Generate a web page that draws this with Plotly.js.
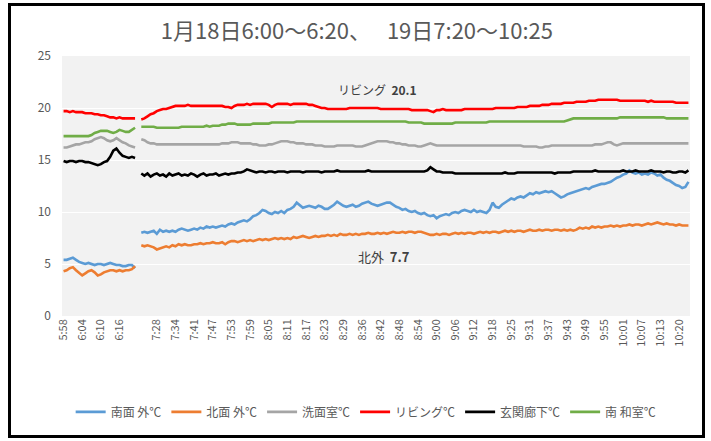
<!DOCTYPE html>
<html><head><meta charset="utf-8">
<script src="https://cdn.plot.ly/plotly-3.0.1.min.js"></script>
<style>
html,body{margin:0;padding:0;background:#fff;}
#chart{position:absolute;left:0;top:0;width:711px;height:441px;}
#frame{position:absolute;left:8px;top:3px;width:691px;height:429px;border:3px solid #000;pointer-events:none;}
</style>
</head><body>
<div id="chart"></div><div id="frame"></div>
<script>
// x tick labels (every 6th row; one blank row between the two days)
const tickLabels = ["5:58","6:04","6:10","6:16","","7:28","7:34","7:41","7:47","7:53","7:59","8:05","8:11","8:17","8:23","8:29","8:36","8:42","8:48","8:54","9:00","9:06","9:12","9:18","9:25","9:31","9:37","9:43","9:49","9:55","10:01","10:07","10:13","10:20"];
const seriesNames = ["南面 外℃","北面 外℃","洗面室℃","リビング℃","玄関廊下℃","南 和室℃"];
const seriesColors = ["#5b9bd5","#ed7d31","#a5a5a5","#ff0000","#000000","#70ad47"];

// Day 1 (18th, 5:58 - 6:21)
const minamiSoto_d1 = [5.4,5.4,5.5,5.6,5.4,5.2,5.1,5.0,5.1,5.0,4.9,5.0,5.0,4.9,5.0,5.1,5.0,4.9,4.9,4.8,4.8,4.9,4.9,4.6];
const kitaSoto_d1   = [4.3,4.4,4.6,4.7,4.4,4.1,3.9,4.1,4.3,4.4,4.2,3.9,4.0,4.2,4.3,4.4,4.4,4.3,4.4,4.3,4.4,4.4,4.5,4.8];
const senmen_d1     = [16.2,16.2,16.3,16.4,16.5,16.5,16.6,16.7,16.7,16.8,17.0,17.1,17.2,17.1,16.9,16.8,16.9,17.1,16.9,16.7,16.6,16.4,16.3,16.2];
const living_d1     = [19.7,19.7,19.6,19.7,19.6,19.6,19.6,19.5,19.5,19.5,19.4,19.4,19.3,19.3,19.2,19.1,19.1,19.0,19.1,19.0,19.0,19.0,19.0,19.0];
const genkan_d1     = [14.9,14.8,14.9,14.9,14.8,14.9,14.9,14.8,14.8,14.7,14.6,14.5,14.6,14.8,14.9,15.3,15.9,16.1,15.7,15.4,15.3,15.2,15.3,15.2];
const washitsu_d1   = [17.3,17.3,17.3,17.3,17.3,17.3,17.3,17.3,17.3,17.4,17.6,17.7,17.8,17.8,17.8,17.7,17.6,17.7,17.9,17.8,17.7,17.7,17.9,18.1];

// Day 2 (19th, ~7:23 - 10:25)
const minamiSoto_d2 = [
8.0,8.1,8.0,8.1,8.2,7.9,8.3,8.1,8.2,8.1,
8.2,8.1,8.3,8.4,8.3,8.2,8.3,8.4,8.3,8.5,
8.4,8.6,8.5,8.6,8.5,8.6,8.7,8.6,8.8,8.9,
8.8,9.0,9.1,9.2,9.1,9.3,9.6,9.7,9.9,10.2,
10.1,9.9,9.8,10.0,9.9,10.1,9.9,10.2,10.3,10.5,
10.9,10.6,10.4,10.5,10.6,10.5,10.4,10.6,10.5,10.3,
10.3,10.5,10.7,11.0,10.8,10.6,10.5,10.6,10.7,10.5,
10.6,10.8,10.9,11.0,10.8,10.7,10.6,10.7,10.8,10.9,
10.9,10.7,10.5,10.4,10.2,10.3,10.1,10.0,10.1,9.9,
9.8,9.9,9.7,9.6,9.7,9.4,9.6,9.7,9.8,9.7,
9.9,10.0,9.9,10.1,10.2,10.1,10.0,10.2,10.0,10.1,
10.0,9.9,10.2,10.9,10.5,10.4,10.7,10.9,11.1,11.3,
11.2,11.4,11.5,11.4,11.6,11.8,11.7,11.9,11.8,11.9,
12.0,11.9,12.0,11.8,11.6,11.4,11.5,11.7,11.8,11.9,
12.0,12.1,12.2,12.3,12.2,12.4,12.5,12.6,12.7,12.7,
12.8,12.9,13.1,13.3,13.4,13.6,13.7,14.0,13.8,13.7,
13.8,13.6,13.7,13.6,13.8,13.7,13.5,13.6,13.3,13.1,
13.0,12.8,12.6,12.5,12.3,12.4,12.9];
const kitaSoto_d2 = [
6.8,6.7,6.8,6.7,6.6,6.4,6.5,6.6,6.7,6.6,
6.8,6.7,6.9,6.8,6.9,6.8,6.8,6.9,6.9,7.0,
6.9,7.0,7.0,7.1,7.0,7.0,7.1,6.9,7.1,7.2,
7.2,7.1,7.2,7.3,7.2,7.3,7.2,7.3,7.4,7.3,
7.4,7.3,7.4,7.5,7.4,7.5,7.4,7.5,7.4,7.6,
7.5,7.6,7.7,7.6,7.5,7.6,7.7,7.6,7.7,7.7,
7.8,7.7,7.8,7.7,7.9,7.8,7.8,7.9,7.8,7.9,
7.8,7.9,7.9,8.0,7.9,7.9,8.0,7.9,8.0,7.9,
8.0,8.1,8.0,8.0,8.1,8.0,8.1,8.1,8.0,8.1,
8.1,8.0,7.9,7.8,7.8,7.9,7.8,7.9,7.9,7.8,
7.9,8.0,7.9,8.0,7.9,8.0,8.0,7.9,8.0,8.1,
8.0,8.1,8.0,8.1,8.1,8.0,8.1,8.2,8.1,8.2,
8.1,8.2,8.2,8.1,8.2,8.3,8.2,8.2,8.3,8.2,
8.3,8.3,8.2,8.3,8.3,8.2,8.3,8.2,8.3,8.2,
8.3,8.5,8.4,8.5,8.4,8.6,8.5,8.6,8.5,8.6,
8.6,8.7,8.6,8.7,8.6,8.7,8.7,8.8,8.7,8.8,
8.8,8.7,8.8,8.9,8.8,8.9,9.0,8.9,8.8,8.9,
8.8,8.8,8.7,8.8,8.7,8.7,8.7];
const senmen_d2 = [
17.0,16.9,16.7,16.6,16.6,16.5,16.5,16.5,16.5,16.5,
16.5,16.5,16.5,16.5,16.5,16.5,16.5,16.5,16.5,16.5,
16.5,16.5,16.5,16.5,16.5,16.5,16.6,16.6,16.6,16.7,
16.7,16.7,16.6,16.6,16.6,16.6,16.5,16.5,16.4,16.4,
16.4,16.5,16.5,16.6,16.7,16.8,16.8,16.8,16.7,16.7,
16.6,16.6,16.6,16.5,16.5,16.5,16.4,16.4,16.4,16.3,
16.3,16.3,16.3,16.4,16.4,16.4,16.4,16.4,16.4,16.3,
16.3,16.3,16.4,16.5,16.6,16.7,16.8,16.8,16.8,16.8,
16.7,16.7,16.6,16.6,16.5,16.5,16.4,16.4,16.4,16.3,
16.3,16.4,16.5,16.6,16.5,16.4,16.4,16.4,16.4,16.4,
16.4,16.4,16.4,16.4,16.4,16.4,16.4,16.4,16.4,16.4,
16.4,16.4,16.4,16.4,16.4,16.4,16.4,16.4,16.4,16.4,
16.4,16.4,16.4,16.3,16.3,16.3,16.3,16.3,16.2,16.2,
16.3,16.3,16.4,16.4,16.4,16.4,16.4,16.4,16.4,16.4,
16.4,16.4,16.4,16.4,16.4,16.4,16.5,16.5,16.5,16.6,
16.7,16.7,16.5,16.4,16.5,16.6,16.6,16.6,16.6,16.6,
16.6,16.6,16.6,16.6,16.6,16.6,16.6,16.6,16.6,16.6,
16.6,16.6,16.6,16.6,16.6,16.6,16.6];
const living_d2 = [
18.9,19.0,19.2,19.4,19.5,19.7,19.8,19.9,19.9,20.0,
20.1,20.2,20.2,20.2,20.2,20.3,20.2,20.2,20.2,20.2,
20.2,20.2,20.2,20.2,20.2,20.2,20.2,20.1,20.1,20.0,
20.2,20.3,20.3,20.3,20.4,20.3,20.4,20.4,20.4,20.4,
20.4,20.3,20.1,20.3,20.4,20.4,20.4,20.4,20.3,20.4,
20.4,20.4,20.4,20.4,20.3,20.3,20.2,20.1,20.0,20.0,
19.9,19.9,19.9,19.9,19.9,19.9,19.9,20.0,20.0,20.0,
20.0,20.0,20.0,20.0,20.0,20.0,20.0,19.9,19.9,19.9,
19.9,19.9,19.9,19.9,19.9,19.9,19.9,19.8,19.8,19.8,
19.8,19.8,19.8,19.7,19.6,19.8,19.8,19.9,19.8,19.8,
19.8,19.8,19.8,19.8,19.9,19.9,19.9,19.9,19.9,19.9,
19.9,19.9,19.9,19.9,20.0,20.0,20.0,20.0,20.0,20.0,
20.0,20.1,20.1,20.1,20.1,20.2,20.2,20.2,20.2,20.3,
20.3,20.3,20.4,20.4,20.4,20.4,20.5,20.5,20.5,20.5,
20.6,20.6,20.6,20.6,20.7,20.7,20.7,20.8,20.8,20.8,
20.8,20.8,20.8,20.8,20.7,20.7,20.7,20.7,20.7,20.7,
20.7,20.7,20.7,20.6,20.7,20.6,20.6,20.6,20.6,20.6,
20.6,20.6,20.5,20.5,20.5,20.5,20.5];
const genkan_d2 = [
13.7,13.5,13.7,13.4,13.6,13.7,13.5,13.6,13.4,13.7,
13.5,13.6,13.7,13.5,13.6,13.5,13.7,13.6,13.4,13.6,
13.7,13.5,13.6,13.6,13.7,13.5,13.6,13.7,13.6,13.7,
13.7,13.8,13.8,13.9,14.1,14.0,13.9,13.8,13.9,13.9,
13.8,13.9,13.9,13.8,13.9,13.9,13.9,13.8,13.9,13.9,
13.9,13.9,13.8,13.9,13.9,13.9,13.9,13.9,13.8,13.9,
13.9,13.9,13.9,14.0,13.9,13.9,13.9,13.9,13.9,13.9,
13.9,13.9,13.9,14.0,13.9,13.9,13.9,13.9,13.9,13.9,
13.9,13.9,13.9,13.9,13.9,13.9,13.9,13.9,13.9,13.9,
13.9,13.9,14.0,14.3,14.1,13.9,13.9,13.8,13.8,13.8,
13.8,13.7,13.7,13.7,13.7,13.7,13.7,13.7,13.7,13.7,
13.7,13.7,13.7,13.7,13.7,13.7,13.7,13.8,13.7,13.7,
13.7,13.8,13.8,13.8,13.8,13.8,13.8,13.8,13.8,13.8,
13.8,13.8,13.8,13.7,13.8,13.8,13.8,13.8,13.8,13.9,
13.9,13.9,13.9,13.9,13.9,13.9,14.0,13.9,13.9,13.9,
13.9,13.9,13.9,13.9,13.9,14.0,13.9,13.9,13.9,14.0,
13.9,13.9,13.9,13.9,14.0,13.9,13.9,13.9,13.8,13.9,
13.9,13.8,13.8,13.9,13.9,13.8,14.0];
const washitsu_d2 = [
18.2,18.2,18.2,18.2,18.2,18.1,18.1,18.1,18.1,18.1,
18.1,18.1,18.1,18.2,18.2,18.2,18.2,18.2,18.2,18.2,
18.2,18.3,18.2,18.3,18.3,18.3,18.4,18.4,18.5,18.5,
18.5,18.4,18.4,18.4,18.4,18.4,18.5,18.5,18.5,18.5,
18.5,18.5,18.6,18.6,18.6,18.6,18.6,18.6,18.6,18.6,
18.7,18.7,18.7,18.7,18.7,18.7,18.7,18.7,18.7,18.7,
18.7,18.7,18.7,18.7,18.7,18.7,18.7,18.7,18.7,18.7,
18.7,18.7,18.7,18.7,18.7,18.7,18.7,18.7,18.7,18.7,
18.7,18.7,18.7,18.7,18.7,18.7,18.6,18.6,18.6,18.6,
18.6,18.5,18.5,18.5,18.5,18.5,18.5,18.5,18.5,18.5,
18.5,18.6,18.6,18.6,18.6,18.6,18.6,18.6,18.6,18.6,
18.6,18.6,18.7,18.7,18.7,18.7,18.7,18.7,18.7,18.7,
18.7,18.7,18.7,18.7,18.7,18.7,18.7,18.7,18.7,18.7,
18.7,18.7,18.7,18.7,18.7,18.7,18.7,18.8,18.9,19.0,
19.0,19.0,19.0,19.0,19.0,19.0,19.0,19.0,19.0,19.0,
19.0,19.0,19.0,19.0,19.1,19.1,19.1,19.1,19.1,19.1,
19.1,19.1,19.1,19.1,19.1,19.1,19.1,19.1,19.1,19.0,
19.0,19.0,19.0,19.0,19.0,19.0,19.0];

const day1 = [minamiSoto_d1, kitaSoto_d1, senmen_d1, living_d1, genkan_d1, washitsu_d1];
const day2 = [minamiSoto_d2, kitaSoto_d2, senmen_d2, living_d2, genkan_d2, washitsu_d2];

const FONT = '"Noto Sans CJK JP", "Noto Sans", sans-serif';
const traces = seriesNames.map((name, k) => {
  const y = day1[k].concat([null], day2[k]);
  const x = y.map((_, i) => i);
  return {
    type: 'scatter', mode: 'lines', name: name, x: x, y: y,
    line: {color: seriesColors[k], width: 2.6},
    connectgaps: false, hoverinfo: 'skip'
  };
});
const nRows = traces[0].x.length;
const tickVals = tickLabels.map((_, i) => i * 6);

const layout = {
  width: 711, height: 441,
  margin: {l: 62, r: 21, t: 56, b: 125, pad: 0},
  paper_bgcolor: '#ffffff', plot_bgcolor: '#f2f2f2',
  font: {family: FONT, color: '#595959'},
  title: {text: '1月18日6:00〜6:20、　 19日7:20〜10:25', xref: 'container', x: 0.502, xanchor: 'center',
          yref: 'container', y: 0.928, yanchor: 'middle',
          font: {family: FONT, size: 22, color: '#595959'}},
  xaxis: {range: [-0.5, nRows - 0.5], tickmode: 'array', tickvals: tickVals, ticktext: tickLabels,
          tickangle: -90, showgrid: false, zeroline: false, showline: false, ticks: '',
          tickfont: {family: FONT, size: 11, color: '#595959'}, automargin: false, fixedrange: true},
  yaxis: {range: [0, 25], dtick: 5, tick0: 0, showgrid: true, gridcolor: '#ffffff', gridwidth: 1,
          zeroline: false, showline: false, ticks: '', ticklabelstandoff: 10,
          tickfont: {family: FONT, size: 12, color: '#595959'}, automargin: false, fixedrange: true},
  showlegend: true,
  legend: {orientation: 'h', x: 0.515, xanchor: 'center', xref: 'container', y: 0.066, yref: 'container', yanchor: 'middle',
           font: {family: FONT, size: 12, color: '#595959'}, bgcolor: 'rgba(0,0,0,0)', itemwidth: 30,
           tracegroupgap: 0},
  annotations: [
    {x: 101, y: 21.8, xref: 'x', yref: 'y', text: 'リビング  <b>20.1</b>', showarrow: false,
     font: {family: FONT, size: 12, color: '#404040'}},
    {x: 103, y: 5.7, xref: 'x', yref: 'y', text: '北外  <b>7.7</b>', showarrow: false,
     font: {family: FONT, size: 13, color: '#404040'}}
  ]
};
Plotly.newPlot('chart', traces, layout, {displayModeBar: false, staticPlot: true});
</script>
</body></html>
